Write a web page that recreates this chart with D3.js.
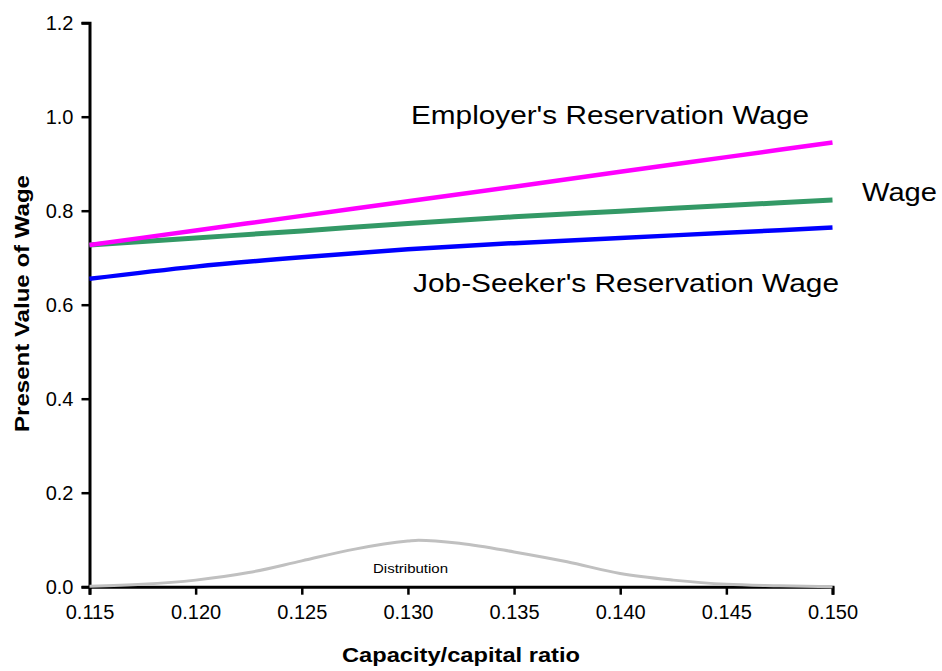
<!DOCTYPE html>
<html><head><meta charset="utf-8">
<script src="https://cdn.jsdelivr.net/npm/d3@7"></script>
<style>body{margin:0;background:#fff;} text{font-family:"Liberation Sans",Arial,sans-serif;}</style>
</head><body><svg id="c" width="942" height="671"></svg>
<script>
const xValues = [0.115,0.120,0.125,0.130,0.135,0.140,0.145,0.150];
const employerWage = [0.727,0.758,0.789,0.820,0.851,0.883,0.914,0.945];
const wage = [0.727,0.742,0.757,0.773,0.787,0.799,0.811,0.823];
const jobSeekerWage = [0.655,0.681,0.701,0.718,0.731,0.742,0.753,0.764];
const distX = [0.115,0.1175,0.120,0.1225,0.125,0.1275,0.130,0.1305,0.1325,0.135,0.1375,0.140,0.1425,0.145,0.1475,0.150];
const distY = [0.001,0.005,0.014,0.030,0.055,0.080,0.097,0.099,0.092,0.074,0.053,0.028,0.014,0.005,0.002,0.000];
const xTicks = [0.115,0.120,0.125,0.130,0.135,0.140,0.145,0.150];
const yTicks = [0.0,0.2,0.4,0.6,0.8,1.0,1.2];

const svg = d3.select("#c");
const x = d3.scaleLinear().domain([0.115,0.150]).range([89.5,832.5]);
const y = d3.scaleLinear().domain([0,1.2]).range([586.7,22.7]);

const xAxis = svg.append("g").attr("transform","translate(0,586.7)")
  .call(d3.axisBottom(x).tickValues(xTicks).tickFormat(d3.format(".3f")).tickSizeOuter(0).tickSize(8).tickPadding(10));
const yAxis = svg.append("g").attr("transform","translate(89.5,0)")
  .call(d3.axisLeft(y).tickValues(yTicks).tickFormat(d3.format(".1f")).tickSizeOuter(0).tickSize(8).tickPadding(8));
[xAxis,yAxis].forEach(a=>{
  a.select(".domain").attr("stroke","#000").attr("stroke-width",3);
  a.selectAll(".tick line").attr("stroke","#000").attr("stroke-width",2.5);
  a.selectAll(".tick text").attr("font-size",20).attr("fill","#000").attr("font-family","Liberation Sans, Arial, sans-serif");
});

const line = d3.line().x(d=>x(d[0])).y(d=>y(d[1])).curve(d3.curveMonotoneX);
svg.append("path").datum(distX.map((v,i)=>[v,distY[i]])).attr("d",line)
  .attr("fill","none").attr("stroke","#c0c0c0").attr("stroke-width",3);
const series = [[jobSeekerWage,"#0000ff",4.5],[wage,"#339966",5],[employerWage,"#ff00ff",4.5]];
series.forEach(([vals,col,w])=>{
  svg.append("path").datum(xValues.map((v,i)=>[v,vals[i]])).attr("d",line)
    .attr("fill","none").attr("stroke",col).attr("stroke-width",w);
});

function label(txt,xp,yp,size,len,extra){
  const t = svg.append("text").attr("x",xp).attr("y",yp).attr("font-size",size)
    .attr("textLength",len).attr("lengthAdjust","spacingAndGlyphs").text(txt);
  if(extra) extra(t);
  return t;
}
label("Employer's Reservation Wage",411,124,26.5,398);
label("Wage",862,201,26.5,75);
label("Job-Seeker's Reservation Wage",413,292,26.5,426);
label("Distribution",373,573,13,75);

svg.append("text").attr("x",342).attr("y",662).attr("font-size",20).attr("font-weight","bold")
  .attr("textLength",238).attr("lengthAdjust","spacingAndGlyphs").text("Capacity/capital ratio");
svg.append("text").attr("transform","translate(29,432) rotate(-90)").attr("font-size",20).attr("font-weight","bold")
  .attr("textLength",257).attr("lengthAdjust","spacingAndGlyphs").text("Present Value of Wage");
</script></body></html>
